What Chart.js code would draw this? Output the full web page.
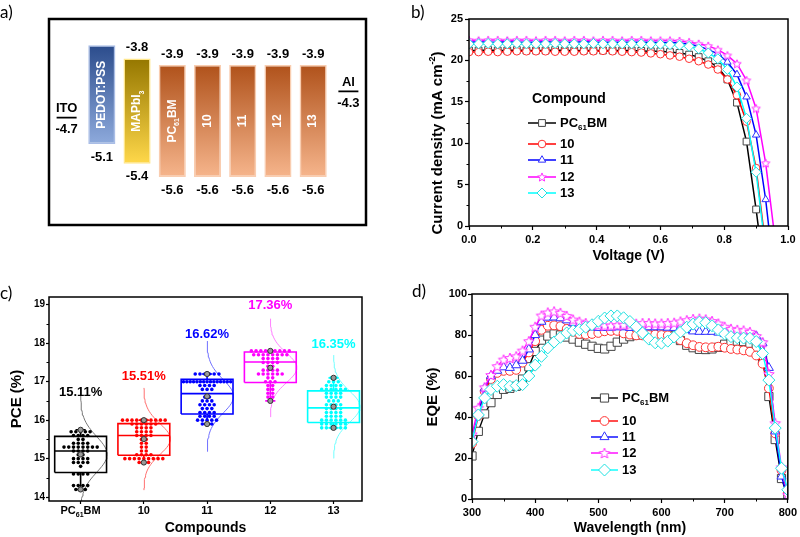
<!DOCTYPE html>
<html>
<head>
<meta charset="utf-8">
<title>Perovskite cells with PC61BM and compounds 10-13</title>
<script src="https://cdn.jsdelivr.net/npm/chart.js@4.4.1/dist/chart.umd.min.js"></script>
<style>
  body { margin: 0; background: #fff; }
  #wrap { position: relative; width: 800px; height: 537px; overflow: hidden; }
  canvas { position: absolute; }
  .tag { position: absolute; font: 17px Lato, 'Open Sans', sans-serif; color: #000; line-height: 1; }
</style>
</head>
<body>
<div id="wrap">
  <canvas id="panelA" width="400" height="270" style="left:0;top:0"></canvas>
  <canvas id="panelB" width="400" height="270" style="left:400px;top:0"></canvas>
  <canvas id="panelC" width="400" height="267" style="left:0;top:270px"></canvas>
  <canvas id="panelD" width="400" height="267" style="left:400px;top:270px"></canvas>
  <div class="tag" style="left:0;top:3px">a)</div>
  <div class="tag" style="left:411px;top:3px">b)</div>
  <div class="tag" style="left:0;top:284px">c)</div>
  <div class="tag" style="left:412px;top:282px">d)</div>
</div>
<script>
// ---------- a) energy levels (eV) ----------
const layerNames = ['ITO', 'PEDOT:PSS', 'MAPbI_{3}', 'PC_{61}BM', '10', '11', '12', '13', 'Al'];
const layerTop = [null, -3.6, -3.8, -3.9, -3.9, -3.9, -3.9, -3.9, null];
const layerBottom = [null, -5.1, -5.4, -5.6, -5.6, -5.6, -5.6, -5.6, null];
const topLabelShown = [false, false, true, true, true, true, true, true, false];
const electrodeLevel = [-4.7, null, null, null, null, null, null, null, -4.3];

// ---------- b) J-V curves ----------
const compounds = ['PC_{61}BM', '10', '11', '12', '13'];
const voltage = [0, 0.03, 0.06, 0.09, 0.12, 0.15, 0.18, 0.21, 0.24, 0.27, 0.30, 0.33, 0.36, 0.39, 0.42, 0.45,
  0.48, 0.51, 0.54, 0.57, 0.60, 0.63, 0.66, 0.69, 0.72, 0.75, 0.78, 0.81, 0.84, 0.87, 0.90, 0.93, 0.96];
const jvPC61BM = [21.2, 21.2, 21.25, 21.2, 21.2, 21.25, 21.2, 21.2, 21.2, 21.25, 21.2, 21.2, 21.2, 21.2, 21.2, 21.2,
  21.2, 21.2, 21.15, 21.1, 21.1, 21.0, 20.9, 20.7, 20.4, 19.9, 19.2, 17.7, 14.9, 10.2, 2.0, -7, null];
const jv10 = [21.0, 21.0, 21.05, 21.0, 21.05, 21.1, 21.1, 21.1, 21.1, 21.05, 21.05, 21.05, 21.1, 21.1, 21.15, 21.1,
  21.05, 21.0, 20.95, 20.85, 20.75, 20.6, 20.45, 20.2, 19.9, 19.5, 18.9, 17.7, 15.8, 12.6, 7.0, -2.5, null];
const jv11 = [22.2, 22.25, 22.2, 22.2, 22.25, 22.2, 22.2, 22.2, 22.25, 22.2, 22.2, 22.2, 22.25, 22.2, 22.2, 22.2,
  22.2, 22.2, 22.2, 22.2, 22.15, 22.15, 22.1, 21.95, 21.7, 21.3, 20.8, 19.8, 18.3, 15.6, 11.0, 3.2, -7];
const jv12 = [22.45, 22.4, 22.45, 22.45, 22.4, 22.45, 22.45, 22.4, 22.45, 22.45, 22.4, 22.45, 22.45, 22.4, 22.45, 22.45,
  22.4, 22.45, 22.45, 22.4, 22.4, 22.4, 22.35, 22.2, 22.0, 21.75, 21.3, 20.6, 19.6, 17.6, 14.2, 7.6, -1.8];
const jv13 = [22.0, 22.0, 22.05, 22.0, 22.0, 22.05, 22.0, 22.0, 22.0, 22.05, 22.0, 22.0, 22.0, 22.05, 22.0, 22.0,
  22.0, 22.0, 22.0, 21.95, 21.95, 21.9, 21.85, 21.7, 21.4, 20.9, 20.2, 18.9, 16.8, 13.0, 6.5, -3, null];

// ---------- c) PCE statistics (%) ----------
const pceQ1 = [14.64, 15.09, 16.16, 16.98, 15.94];
const pceMedian = [15.2, 15.6, 16.69, 17.51, 16.32];
const pceQ3 = [15.58, 15.91, 17.06, 17.77, 16.76];
const pceMin = [14.2, 14.9, 15.9, 16.5, 15.8];
const pceMax = [15.75, 16.0, 17.2, 17.8, 17.1];
const pceMean = [15.11, 15.51, 16.62, 17.36, 16.35];
const pcePC61BM = [15.75, 15.7, 15.7, 15.7, 15.7, 15.7, 15.6, 15.6, 15.6, 15.6, 15.5, 15.5, 15.4, 15.4, 15.4, 15.4,
  15.3, 15.3, 15.3, 15.3, 15.3, 15.3, 15.3, 15.3, 15.2, 15.2, 15.2, 15.2, 15.1, 15.1, 15.0, 15.0, 15.0, 15.0,
  14.9, 14.9, 14.9, 14.9, 14.8, 14.6, 14.6, 14.6, 14.6, 14.3, 14.3, 14.3, 14.3, 14.2, 14.2, 14.2];
const pce10 = [16.0, 16.0, 16.0, 16.0, 16.0, 16.0, 16.0, 16.0, 16.0, 16.0, 15.9, 15.9, 15.9, 15.9, 15.9, 15.9,
  15.8, 15.8, 15.8, 15.8, 15.7, 15.7, 15.7, 15.7, 15.6, 15.6, 15.6, 15.6, 15.5, 15.5, 15.4, 15.4, 15.3, 15.3,
  15.2, 15.2, 15.1, 15.1, 15.1, 15.1, 15.0, 15.0, 15.0, 15.0, 15.0, 15.0, 15.0, 15.0, 15.0, 14.9, 14.9, 14.9];
const pce11 = [17.2, 17.2, 17.2, 17.2, 17.2, 17.2, 17.0, 17.0, 17.0, 17.0, 17.0, 17.0, 17.0, 17.0, 17.0, 17.0,
  17.0, 17.0, 17.0, 17.0, 17.0, 16.9, 16.9, 16.9, 16.9, 16.8, 16.8, 16.8, 16.6, 16.6, 16.5, 16.5, 16.5,
  16.4, 16.4, 16.4, 16.4, 16.3, 16.3, 16.3, 16.2, 16.2, 16.2, 16.2, 16.1, 16.1, 16.1, 16.1,
  16.0, 16.0, 16.0, 16.0, 16.0, 15.9, 15.9, 15.9];
const pce12 = [17.8, 17.8, 17.8, 17.8, 17.8, 17.8, 17.8, 17.8, 17.8, 17.7, 17.7, 17.7, 17.7, 17.7, 17.7, 17.7, 17.7,
  17.6, 17.6, 17.6, 17.6, 17.5, 17.5, 17.5, 17.5, 17.4, 17.4, 17.3, 17.3, 17.3, 17.3, 17.2, 17.2, 17.2, 17.2,
  17.2, 17.2, 17.1, 17.1, 17.0, 17.0, 17.0, 16.9, 16.9, 16.8, 16.8, 16.7, 16.7, 16.6, 16.6, 16.5];
const pce13 = [17.1, 17.1, 17.0, 17.0, 17.0, 16.9, 16.9, 16.9, 16.9, 16.8, 16.8, 16.8, 16.8, 16.8, 16.8,
  16.7, 16.7, 16.7, 16.7, 16.6, 16.6, 16.6, 16.6, 16.5, 16.5, 16.5, 16.4, 16.4, 16.4, 16.4,
  16.3, 16.3, 16.3, 16.3, 16.2, 16.2, 16.2, 16.2, 16.1, 16.1, 16.1, 16.1, 16.0, 16.0, 16.0, 16.0, 16.0, 16.0,
  15.9, 15.9, 15.9, 15.9, 15.9, 15.9, 15.8, 15.8, 15.8, 15.8, 15.8, 15.8];

// ---------- d) EQE (%) ----------
const wavelength = [300, 310, 320, 330, 340, 350, 360, 370, 380, 390, 400, 410, 420, 430, 440, 450, 460, 470, 480, 490,
  500, 510, 520, 530, 540, 550, 560, 570, 580, 590, 600, 610, 620, 630, 640, 650, 660, 670, 680, 690,
  700, 710, 720, 730, 740, 750, 760, 770, 780, 790, 800];
const eqePC61BM = [21, 33, 41.5, 47, 51, 53.5, 54, 55, 58.5, 64.5,
  72, 77.5, 79.5, 80.5, 80, 79, 78, 76.5, 75.5, 74.5,
  73.5, 73.2, 74.5, 76.5, 78, 79.2, 80, 80.5, 80.8, 81,
  81, 80.8, 79.5, 77.3, 75, 73.8, 73, 72.9, 73.2, 74,
  75.5, 76.5, 77, 76.8, 76, 74, 68, 50, 29, 10, 1];
const eqe10 = [27, 40.5, 52.5, 58.5, 61.5, 62.5, 62.5, 63, 66.5, 71.5,
  77, 82.5, 84.5, 84.7, 84.3, 83, 81.5, 80.5, 80.2, 80.5,
  81, 81.8, 82, 82, 80.8, 80.2, 79.8, 79.8, 80, 80.2,
  80, 79.8, 78.8, 77.5, 76, 75, 74.2, 74, 74, 74.3,
  73.8, 73.2, 72.9, 72.5, 71.8, 70, 66, 54, 32, 14, 3];
const eqe11 = [29, 41.5, 54, 60, 62.6, 64.3, 64, 65.3, 67.5, 73,
  80, 86.5, 88.5, 88.6, 88.2, 87.2, 85.8, 84.8, 84.2, 83.8,
  83.5, 83.5, 83.6, 83.8, 83.8, 83.5, 83.5, 83.6, 83.8, 83.8,
  83.8, 83.6, 83.5, 83.8, 82.5, 81.8, 81.6, 81.6, 81.6, 81.2,
  80.5, 80.3, 80.3, 80.3, 80.3, 79.5, 76, 64, 33, 11, 0.5];
const eqe12 = [31.5, 44.5, 54.5, 60.5, 64.8, 68, 68.8, 69.6, 72.4, 77,
  84, 89.5, 91, 91.5, 90.8, 89.3, 87.5, 86.5, 85.8, 85.2,
  84.8, 84.6, 84.6, 84.8, 85, 85.2, 85.5, 85.8, 85.8, 85.6,
  85.6, 85.8, 86, 86.6, 87.2, 87.8, 88, 87.6, 86.8, 85.6,
  84, 83, 82.5, 82.2, 81.5, 79.5, 76.5, 61, 37, 15.5, 2];
const eqe13 = [28, 41, 49.3, 53.4, 55, 55.8, 55, 55.3, 55.8, 60,
  65.3, 69.6, 73.7, 76.6, 78.9, 81, 82.1, 82.6, 83.8, 85,
  86.7, 88.3, 89.3, 89.3, 88.4, 86.6, 84, 81, 78, 76.2,
  76, 77, 79, 81.5, 83.8, 85.3, 86.3, 86, 84.5, 82.5,
  80.5, 79.2, 78.6, 78.5, 78.4, 76.8, 71, 58, 34.6, 15, 4.5];

// ---------- styles ----------
const ARIAL = "'Liberation Sans', Arial, sans-serif";
const seriesColors = ['#000000', '#ff0000', '#0000ff', '#ff00ff', '#00ffff'];
const markerColors = ['#444444', '#ff3030', '#3030ff', '#ff30ff', '#20e0e0'];
const bellColors = ['#777777', '#ff7070', '#7070ff', '#ff80ff', '#70ffff'];
const barGrad = [null, ['#2b4c8c', '#8eaadc'], ['#957700', '#ffd84a'], ['#b0521b', '#f6b58c'], ['#b0521b', '#f6b58c'],
  ['#b0521b', '#f6b58c'], ['#b0521b', '#f6b58c'], ['#b0521b', '#f6b58c'], null];
const barEdge = [null, '#a9bde6', '#ffe68a', '#f9cdb0', '#f9cdb0', '#f9cdb0', '#f9cdb0', '#f9cdb0', null];

// text with _{sub} and ^{sup}
function richParts(s) {
  const out = [];
  const re = /([_^])\{([^}]*)\}/g;
  let last = 0, m;
  while ((m = re.exec(s))) {
    if (m.index > last) out.push({ t: s.slice(last, m.index), k: 0 });
    out.push({ t: m[2], k: m[1] === '_' ? -1 : 1 });
    last = re.lastIndex;
  }
  if (last < s.length) out.push({ t: s.slice(last), k: 0 });
  return out;
}

function drawRich(ctx, s, x, y, size, family, align) {
  const parts = richParts(s);
  const small = Math.round(size * 0.62);
  const fontFor = k => `bold ${k ? small : size}px ${family}`;
  let w = 0;
  parts.forEach(p => { ctx.font = fontFor(p.k); p.w = ctx.measureText(p.t).width; w += p.w; });
  let cx = align === 'left' ? x : align === 'right' ? x - w : x - w / 2;
  ctx.textAlign = 'left';
  ctx.textBaseline = 'middle';
  parts.forEach(p => {
    ctx.font = fontFor(p.k);
    const dy = p.k < 0 ? size * 0.38 : p.k > 0 ? -size * 0.38 : 0;
    ctx.fillText(p.t, cx, y + dy);
    cx += p.w;
  });
  return w;
}

function makeStar(color, r) {
  const size = Math.ceil(r * 2 + 3);
  const c = document.createElement('canvas');
  c.width = c.height = size;
  const g = c.getContext('2d');
  g.translate(size / 2, size / 2 + r * 0.1);
  g.beginPath();
  for (let k = 0; k < 10; k++) {
    const rr = k % 2 ? r * 0.45 : r;
    const ang = -Math.PI / 2 + k * Math.PI / 5;
    g.lineTo(rr * Math.cos(ang), rr * Math.sin(ang));
  }
  g.closePath();
  g.fillStyle = '#fff';
  g.fill();
  g.strokeStyle = color;
  g.lineWidth = 1;
  g.stroke();
  return c;
}

// ---------- plugins ----------
const framePlugin = {
  id: 'frame',
  afterDraw(chart, args, o) {
    const { ctx, chartArea: a } = chart;
    ctx.save();
    ctx.strokeStyle = '#000';
    ctx.lineWidth = o.width || 1.5;
    ctx.strokeRect(a.left, a.top, a.right - a.left, a.bottom - a.top);
    ctx.restore();
  }
};

const minorPlugin = {
  id: 'minor',
  afterDraw(chart, args, o) {
    const { ctx, chartArea: a } = chart;
    ctx.save();
    ctx.strokeStyle = '#000';
    ctx.lineWidth = 1;
    ['x', 'y'].forEach(id => {
      if (!o[id]) return;
      const s = chart.scales[id];
      const t = s.ticks;
      for (let i = 0; i < t.length - 1; i++) {
        const p = Math.round(s.getPixelForValue((t[i].value + t[i + 1].value) / 2)) + 0.5;
        ctx.beginPath();
        if (id === 'x') { ctx.moveTo(p, a.bottom); ctx.lineTo(p, a.bottom + 2.5); }
        else { ctx.moveTo(a.left, p); ctx.lineTo(a.left - 2.5, p); }
        ctx.stroke();
      }
    });
    ctx.restore();
  }
};

const titlePlugin = {
  id: 'axisTitles',
  afterDraw(chart, args, o) {
    const { ctx, chartArea: a } = chart;
    ctx.save();
    ctx.fillStyle = '#000';
    if (o.x) drawRich(ctx, o.x.text, (a.left + a.right) / 2, o.x.y, o.x.size, ARIAL, 'center');
    if (o.y) {
      ctx.translate(o.y.x, o.y.y);
      ctx.rotate(-Math.PI / 2);
      drawRich(ctx, o.y.text, 0, 0, o.y.size, ARIAL, 'center');
    }
    ctx.restore();
  }
};

const keyPlugin = {
  id: 'seriesKey',
  afterDraw(chart, args, o) {
    const ctx = chart.ctx;
    ctx.save();
    if (o.title) { ctx.fillStyle = '#000'; drawRich(ctx, o.title, o.titleX, o.titleY, 14, ARIAL, 'left'); }
    chart.data.datasets.forEach((ds, i) => {
      const y = o.rows[i];
      ctx.strokeStyle = ds.borderColor;
      ctx.lineWidth = ds.borderWidth;
      ctx.beginPath();
      ctx.moveTo(o.lineX, y);
      ctx.lineTo(o.lineX + o.lineW, y);
      ctx.stroke();
      ctx.fillStyle = ds.pointBackgroundColor;
      ctx.strokeStyle = ds.pointBorderColor;
      ctx.lineWidth = ds.pointBorderWidth;
      Chart.helpers.drawPoint(ctx, { pointStyle: ds.pointStyle, radius: ds.pointRadius, rotation: 0, borderWidth: ds.pointBorderWidth },
        o.lineX + o.lineW / 2, y);
      ctx.fillStyle = '#000';
      drawRich(ctx, ds.label, o.lineX + o.lineW + 4, y, 13, ARIAL, 'left');
    });
    ctx.restore();
  }
};

const energyText = {
  id: 'energyText',
  afterDatasetsDraw(chart) {
    const ctx = chart.ctx;
    const bars = chart.getDatasetMeta(0).data;
    const marks = chart.getDatasetMeta(1).data;
    ctx.save();
    layerNames.forEach((name, i) => {
      ctx.fillStyle = '#000';
      if (layerTop[i] !== null) {
        const b = bars[i];
        const top = Math.min(b.y, b.base), bot = Math.max(b.y, b.base);
        if (topLabelShown[i]) drawRich(ctx, layerTop[i].toFixed(1), b.x, top - 11, 13, ARIAL, 'center');
        drawRich(ctx, layerBottom[i].toFixed(1), b.x, bot + 13, 13, ARIAL, 'center');
        ctx.save();
        ctx.translate(b.x, (top + bot) / 2);
        ctx.rotate(-Math.PI / 2);
        ctx.fillStyle = '#fff';
        drawRich(ctx, name, 0, 0, 12, ARIAL, 'center');
        ctx.restore();
      } else {
        const p = marks[i];
        drawRich(ctx, name, p.x, p.y - 9, 13, ARIAL, 'center');
        drawRich(ctx, electrodeLevel[i].toFixed(1), p.x, p.y + 12, 13, ARIAL, 'center');
      }
    });
    ctx.restore();
  }
};

const GRID = { drawOnChartArea: false, drawTicks: true, tickLength: 4, tickWidth: 1.2, tickColor: '#000', color: '#000' };
const TICK_FONT = { family: ARIAL, size: 11, weight: 'bold' };

// ---------- a) ----------
new Chart(document.getElementById('panelA'), {
  type: 'bar',
  data: {
    labels: layerNames,
    datasets: [{
      data: layerTop.map((t, i) => t === null ? null : [layerBottom[i], t]),
      backgroundColor: c => {
        const chart = c.chart;
        if (!chart.chartArea || c.type !== 'data' || !c.raw) return '#ccc';
        const y = chart.scales.y;
        const g = chart.ctx.createLinearGradient(0, y.getPixelForValue(c.raw[1]), 0, y.getPixelForValue(c.raw[0]));
        g.addColorStop(0, barGrad[c.dataIndex][0]);
        g.addColorStop(1, barGrad[c.dataIndex][1]);
        return g;
      },
      borderColor: c => barEdge[c.dataIndex] || '#fff',
      borderWidth: 1.5,
      borderSkipped: false,
      barPercentage: 0.77,
      categoryPercentage: 1,
      order: 1
    }, {
      type: 'line',
      data: electrodeLevel,
      showLine: false,
      pointStyle: 'line',
      pointRadius: 10,
      pointBorderWidth: 1.8,
      pointBorderColor: '#000',
      borderColor: '#000',
      order: 0
    }]
  },
  options: {
    responsive: false,
    animation: false,
    layout: { padding: { left: 49, top: 19, right: 34, bottom: 45 } },
    scales: {
      x: { display: false },
      y: { display: false, min: -6.33, max: -3.2 }
    },
    plugins: { legend: { display: false }, tooltip: { enabled: false }, frame: { width: 2.5 } }
  },
  plugins: [framePlugin, energyText]
});

// ---------- b) ----------
const jvSeries = [jvPC61BM, jv10, jv11, jv12, jv13];
const styleB = ['rect', 'circle', 'triangle', makeStar(markerColors[3], 4.5), 'rectRot'];
const radiusB = [4.8, 3.8, 4.3, 4.5, 5];
new Chart(document.getElementById('panelB'), {
  type: 'line',
  data: {
    datasets: compounds.map((name, i) => ({
      label: name,
      data: voltage.map((v, k) => ({ x: v, y: jvSeries[i][k] })),
      borderColor: seriesColors[i],
      borderWidth: 1.5,
      pointStyle: styleB[i],
      pointRadius: radiusB[i],
      pointBackgroundColor: '#fff',
      pointBorderColor: markerColors[i],
      pointBorderWidth: 1,
      tension: 0,
      order: 4 - i
    }))
  },
  options: {
    responsive: false,
    animation: false,
    layout: { padding: { left: 0, top: 19, right: 12, bottom: 0 } },
    scales: {
      x: {
        type: 'linear', min: 0, max: 1,
        ticks: { stepSize: 0.2, callback: v => v.toFixed(1), font: TICK_FONT, color: '#000', padding: 3, maxRotation: 0 },
        grid: GRID, border: { display: false },
        afterFit: s => { s.height = 44; }
      },
      y: {
        type: 'linear', min: 0, max: 25,
        ticks: { stepSize: 5, font: TICK_FONT, color: '#000', padding: 2 },
        grid: GRID, border: { display: false },
        afterFit: s => { s.width = 69; }
      }
    },
    plugins: {
      legend: { display: false }, tooltip: { enabled: false },
      frame: { width: 1.5 },
      minor: { x: true, y: true },
      axisTitles: { x: { text: 'Voltage (V)', y: 256, size: 14 }, y: { text: 'Current density (mA cm^{-2})', x: 38, y: 143, size: 15 } },
      seriesKey: { title: 'Compound', titleX: 132, titleY: 99, lineX: 128, lineW: 28, rows: [123, 144, 160, 177, 193] }
    }
  },
  plugins: [framePlugin, minorPlugin, titlePlugin, keyPlugin]
});

// ---------- c) ----------
const pcePoints = [pcePC61BM, pce10, pce11, pce12, pce13];
const BOX_HALF = 0.41, CAP_HALF = 0.08, BELL_PEAK = 0.42;
const cDatasets = [];
compounds.forEach((name, i) => {
  const xc = i + 1;
  const q1 = pceQ1[i], q3 = pceQ3[i], lo = pceMin[i], hi = pceMax[i], med = pceMedian[i];
  const outline = [
    [xc - BOX_HALF, q1], [xc + BOX_HALF, q1], [xc + BOX_HALF, q3], [xc - BOX_HALF, q3], [xc - BOX_HALF, q1], null,
    [xc - BOX_HALF, med], [xc + BOX_HALF, med], null,
    [xc, q3], [xc, hi], null, [xc - CAP_HALF, hi], [xc + CAP_HALF, hi], null,
    [xc, q1], [xc, lo], null, [xc - CAP_HALF, lo], [xc + CAP_HALF, lo]
  ].map(p => p ? { x: p[0], y: p[1] } : { x: xc, y: null });

  // points with equal values are laid side by side
  const pts = pcePoints[i];
  const counts = {}, seen = {};
  pts.forEach(v => { counts[v] = (counts[v] || 0) + 1; });
  const dots = pts.map(v => {
    const n = counts[v];
    const k = seen[v] = (seen[v] === undefined ? 0 : seen[v] + 1);
    const dx = Math.min(0.075, 0.8 / n);
    return { x: xc + (k - (n - 1) / 2) * dx, y: v };
  });

  // normal curve from the mean and spread of the points
  const m = pceMean[i];
  const sd = Math.sqrt(pts.reduce((s, v) => s + (v - m) ** 2, 0) / (pts.length - 1));
  const bell = [];
  for (let k = 0; k <= 48; k++) {
    const y = m - 3.3 * sd + k * 6.6 * sd / 48;
    bell.push({ x: xc + BELL_PEAK * Math.exp(-0.5 * ((y - m) / sd) ** 2), y });
  }

  cDatasets.push({ data: bell, borderColor: bellColors[i], borderWidth: 1, pointRadius: 0, order: 4 });
  cDatasets.push({ data: outline, borderColor: seriesColors[i], borderWidth: 1.6, pointRadius: 0, spanGaps: false, order: 3 });
  cDatasets.push({ data: dots, showLine: false, pointRadius: 1.8, pointBackgroundColor: seriesColors[i],
    pointBorderColor: seriesColors[i], pointBorderWidth: 0, order: 2 });
  cDatasets.push({ data: [{ x: xc, y: m }, { x: xc, y: lo }, { x: xc, y: hi }], showLine: false, pointRadius: 2.6,
    pointBackgroundColor: '#9a9a9a', pointBorderColor: '#333', pointBorderWidth: 1, order: 1 });
});

const boxText = {
  id: 'boxText',
  afterDatasetsDraw(chart) {
    const { ctx, chartArea: a } = chart;
    const xs = chart.scales.x, ys = chart.scales.y;
    ctx.save();
    compounds.forEach((name, i) => {
      const px = xs.getPixelForValue(i + 1);
      ctx.fillStyle = '#000';
      drawRich(ctx, name, px, a.bottom + 10, 11, ARIAL, 'center');
      ctx.fillStyle = seriesColors[i];
      drawRich(ctx, pceMean[i].toFixed(2) + '%', px, ys.getPixelForValue(pceMean[i] + 1.62), 13, ARIAL, 'center');
    });
    ctx.restore();
  }
};

new Chart(document.getElementById('panelC'), {
  type: 'line',
  data: { datasets: cDatasets },
  options: {
    responsive: false,
    animation: false,
    layout: { padding: { left: 0, top: 27, right: 38, bottom: 0 } },
    scales: {
      x: {
        type: 'linear', min: 0.5, max: 5.45,
        afterBuildTicks: s => { s.ticks = [1, 2, 3, 4, 5].map(v => ({ value: v })); },
        ticks: { display: false },
        grid: Object.assign({}, GRID, { tickLength: 3 }), border: { display: false },
        afterFit: s => { s.height = 36; }
      },
      y: {
        type: 'linear', min: 13.9, max: 19.2,
        ticks: { stepSize: 1, includeBounds: false, font: { family: ARIAL, size: 10, weight: 'bold' }, color: '#000', padding: 1 },
        grid: Object.assign({}, GRID, { tickLength: 3 }), border: { display: false },
        afterFit: s => { s.width = 49; }
      }
    },
    plugins: {
      legend: { display: false }, tooltip: { enabled: false },
      frame: { width: 1.5 },
      minor: { y: true },
      axisTitles: { x: { text: 'Compounds', y: 258, size: 14 }, y: { text: 'PCE (%)', x: 17, y: 129, size: 15 } }
    }
  },
  plugins: [framePlugin, minorPlugin, titlePlugin, boxText]
});

// ---------- d) ----------
const eqeSeries = [eqePC61BM, eqe10, eqe11, eqe12, eqe13];
const styleD = ['rect', 'circle', 'triangle', makeStar(markerColors[3], 5.5), 'rectRot'];
const radiusD = [5.8, 4.4, 5.2, 5.5, 6];
new Chart(document.getElementById('panelD'), {
  type: 'line',
  data: {
    datasets: compounds.map((name, i) => ({
      label: name,
      data: wavelength.map((w, k) => ({ x: w, y: eqeSeries[i][k] })),
      borderColor: seriesColors[i],
      borderWidth: 1.4,
      pointStyle: styleD[i],
      pointRadius: radiusD[i],
      pointBackgroundColor: '#fff',
      pointBorderColor: markerColors[i],
      pointBorderWidth: 1,
      tension: 0,
      order: 4 - i
    }))
  },
  options: {
    responsive: false,
    animation: false,
    layout: { padding: { left: 0, top: 24, right: 11, bottom: 0 } },
    scales: {
      x: {
        type: 'linear', min: 300, max: 800,
        ticks: { stepSize: 100, font: TICK_FONT, color: '#000', padding: 3, maxRotation: 0 },
        grid: GRID, border: { display: false },
        afterFit: s => { s.height = 38; }
      },
      y: {
        type: 'linear', min: 0, max: 100,
        ticks: { stepSize: 20, font: TICK_FONT, color: '#000', padding: 1 },
        grid: GRID, border: { display: false },
        afterFit: s => { s.width = 72; }
      }
    },
    plugins: {
      legend: { display: false }, tooltip: { enabled: false },
      frame: { width: 1.5 },
      minor: { x: true, y: true },
      axisTitles: { x: { text: 'Wavelength (nm)', y: 258, size: 14 }, y: { text: 'EQE (%)', x: 33, y: 127, size: 15 } },
      seriesKey: { lineX: 191, lineW: 27, rows: [128, 151, 167, 183, 200] }
    }
  },
  plugins: [framePlugin, minorPlugin, titlePlugin, keyPlugin]
});
</script>
</body>
</html>
